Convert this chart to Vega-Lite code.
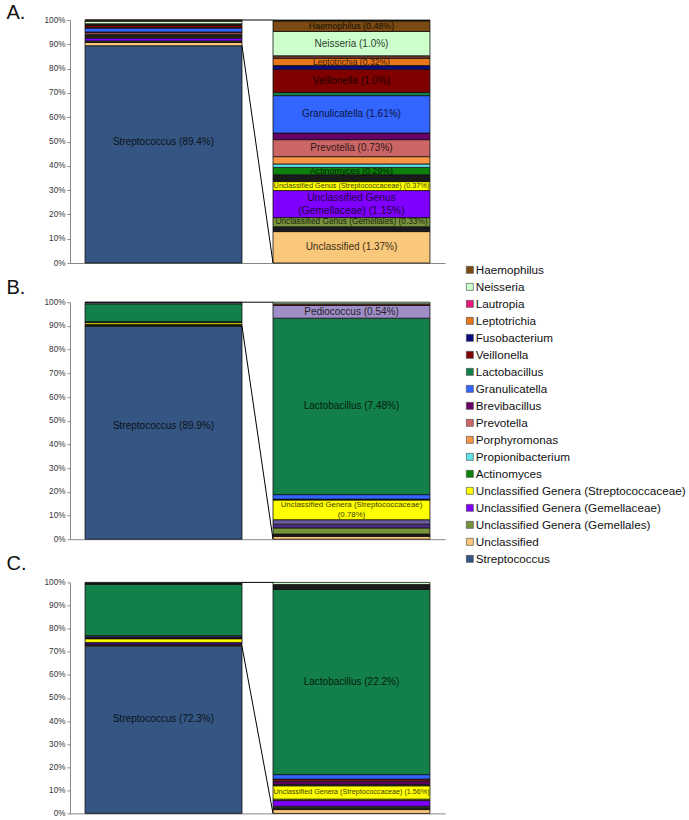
{
  "$schema": "https://vega.github.io/schema/vega-lite/v6.json",
  "autosize": {"type": "pad"},
  "padding": {"left": 6, "top": 2, "right": 2, "bottom": 2},
  "spacing": 10.2,
  "config": {
    "view": {"stroke": null},
    "font": "Liberation Sans",
    "axis": {"labelFont": "Liberation Sans", "titleFont": "Liberation Sans"},
    "axisY": {"labelOverlap": false, "grid": false, "domainColor": "#888", "tickColor": "#888", "tickSize": 3, "labelFontSize": 8.2, "labelColor": "#333", "labelPadding": 2, "titleAngle": 0, "titleX": -64, "titleAlign": "left", "titleBaseline": "alphabetic", "titleFontSize": 20, "titleFontWeight": "normal", "titleColor": "#111"},
    "axisX": {"labels": false, "ticks": false, "domainColor": "#888"},
    "legend": {"labelFontSize": 11.7, "labelFont": "Liberation Sans", "labelColor": "#111", "labelOffset": 0, "rowPadding": 4, "labelLimit": 300, "symbolType": "square", "symbolSize": 49, "symbolStrokeColor": "#444", "symbolStrokeWidth": 0.6}
  },
  "resolve": {"scale": {"color": "shared"}},
  "datasets": {
    "A": [
      {"bar": "All", "taxon": "Streptococcus", "pct": 89.4, "rank": 10, "label": "Streptococcus (89.4%)"},
      {"bar": "All", "taxon": "Unclassified", "pct": 1.37, "rank": 20, "label": ""},
      {"bar": "All", "taxon": "Other", "pct": 0.21, "rank": 30, "label": ""},
      {"bar": "All", "taxon": "Unclassified Genera (Gemellales)", "pct": 0.40, "rank": 40, "label": ""},
      {"bar": "All", "taxon": "Unclassified Genera (Gemellaceae)", "pct": 1.18, "rank": 50, "label": ""},
      {"bar": "All", "taxon": "Unclassified Genera (Streptococcaceae)", "pct": 0.39, "rank": 60, "label": ""},
      {"bar": "All", "taxon": "Other", "pct": 0.30, "rank": 70, "label": ""},
      {"bar": "All", "taxon": "Actinomyces", "pct": 0.32, "rank": 80, "label": ""},
      {"bar": "All", "taxon": "Propionibacterium", "pct": 0.15, "rank": 90, "label": ""},
      {"bar": "All", "taxon": "Porphyromonas", "pct": 0.32, "rank": 100, "label": ""},
      {"bar": "All", "taxon": "Prevotella", "pct": 0.74, "rank": 110, "label": ""},
      {"bar": "All", "taxon": "Brevibacillus", "pct": 0.29, "rank": 120, "label": ""},
      {"bar": "All", "taxon": "Granulicatella", "pct": 1.63, "rank": 130, "label": ""},
      {"bar": "All", "taxon": "Lactobacillus", "pct": 0.14, "rank": 140, "label": ""},
      {"bar": "All", "taxon": "Veillonella", "pct": 1.00, "rank": 150, "label": ""},
      {"bar": "All", "taxon": "Fusobacterium", "pct": 0.17, "rank": 160, "label": ""},
      {"bar": "All", "taxon": "Leptotrichia", "pct": 0.32, "rank": 170, "label": ""},
      {"bar": "All", "taxon": "Other 2", "pct": 0.11, "rank": 190, "label": ""},
      {"bar": "All", "taxon": "Neisseria", "pct": 1.06, "rank": 200, "label": ""},
      {"bar": "All", "taxon": "Haemophilus", "pct": 0.46, "rank": 210, "label": ""},
      {"bar": "All", "taxon": "Other", "pct": 0.04, "rank": 220, "label": ""},
      {"bar": "Minor", "taxon": "Unclassified", "pct": 1.37, "rank": 20, "label": "Unclassified (1.37%)"},
      {"bar": "Minor", "taxon": "Other", "pct": 0.21, "rank": 30, "label": ""},
      {"bar": "Minor", "taxon": "Unclassified Genera (Gemellales)", "pct": 0.40, "rank": 40, "label": "Unclassified Genus (Gemellales) (0.33%)"},
      {"bar": "Minor", "taxon": "Unclassified Genera (Gemellaceae)", "pct": 1.18, "rank": 50, "label": ["Unclassified Genus", "(Gemellaceae) (1.15%)"]},
      {"bar": "Minor", "taxon": "Unclassified Genera (Streptococcaceae)", "pct": 0.39, "rank": 60, "label": "Unclassified Genus (Streptococcaceae) (0.37%)"},
      {"bar": "Minor", "taxon": "Other", "pct": 0.30, "rank": 70, "label": ""},
      {"bar": "Minor", "taxon": "Actinomyces", "pct": 0.32, "rank": 80, "label": "Actinomyces (0.29%)"},
      {"bar": "Minor", "taxon": "Propionibacterium", "pct": 0.15, "rank": 90, "label": ""},
      {"bar": "Minor", "taxon": "Porphyromonas", "pct": 0.32, "rank": 100, "label": ""},
      {"bar": "Minor", "taxon": "Prevotella", "pct": 0.74, "rank": 110, "label": "Prevotella (0.73%)"},
      {"bar": "Minor", "taxon": "Brevibacillus", "pct": 0.29, "rank": 120, "label": ""},
      {"bar": "Minor", "taxon": "Granulicatella", "pct": 1.63, "rank": 130, "label": "Granulicatella (1.61%)"},
      {"bar": "Minor", "taxon": "Lactobacillus", "pct": 0.14, "rank": 140, "label": ""},
      {"bar": "Minor", "taxon": "Veillonella", "pct": 1.00, "rank": 150, "label": "Veillonella (1.0%)"},
      {"bar": "Minor", "taxon": "Fusobacterium", "pct": 0.17, "rank": 160, "label": ""},
      {"bar": "Minor", "taxon": "Leptotrichia", "pct": 0.32, "rank": 170, "label": "Leptotrichia (0.32%)"},
      {"bar": "Minor", "taxon": "Other 2", "pct": 0.11, "rank": 190, "label": ""},
      {"bar": "Minor", "taxon": "Neisseria", "pct": 1.06, "rank": 200, "label": "Neisseria (1.0%)"},
      {"bar": "Minor", "taxon": "Haemophilus", "pct": 0.46, "rank": 210, "label": "Haemophilus (0.48%)"},
      {"bar": "Minor", "taxon": "Other", "pct": 0.04, "rank": 220, "label": ""}
    ],
    "B": [
      {"bar": "All", "taxon": "Streptococcus", "pct": 89.9, "rank": 10, "label": "Streptococcus (89.9%)"},
      {"bar": "All", "taxon": "Unclassified", "pct": 0.12, "rank": 20, "label": ""},
      {"bar": "All", "taxon": "Other", "pct": 0.10, "rank": 30, "label": ""},
      {"bar": "All", "taxon": "Unclassified Genera (Gemellales)", "pct": 0.26, "rank": 40, "label": ""},
      {"bar": "All", "taxon": "Other 4", "pct": 0.16, "rank": 50, "label": ""},
      {"bar": "All", "taxon": "Other 3", "pct": 0.19, "rank": 55, "label": ""},
      {"bar": "All", "taxon": "Unclassified Genera (Streptococcaceae)", "pct": 0.84, "rank": 60, "label": ""},
      {"bar": "All", "taxon": "Other", "pct": 0.04, "rank": 70, "label": ""},
      {"bar": "All", "taxon": "Granulicatella", "pct": 0.19, "rank": 130, "label": ""},
      {"bar": "All", "taxon": "Lactobacillus", "pct": 7.52, "rank": 140, "label": ""},
      {"bar": "All", "taxon": "Pediococcus", "pct": 0.54, "rank": 145, "label": ""},
      {"bar": "All", "taxon": "Other 2", "pct": 0.07, "rank": 190, "label": ""},
      {"bar": "All", "taxon": "Neisseria", "pct": 0.07, "rank": 200, "label": ""},
      {"bar": "Minor", "taxon": "Unclassified", "pct": 0.12, "rank": 20, "label": ""},
      {"bar": "Minor", "taxon": "Other", "pct": 0.10, "rank": 30, "label": ""},
      {"bar": "Minor", "taxon": "Unclassified Genera (Gemellales)", "pct": 0.26, "rank": 40, "label": ""},
      {"bar": "Minor", "taxon": "Other 4", "pct": 0.16, "rank": 50, "label": ""},
      {"bar": "Minor", "taxon": "Other 3", "pct": 0.19, "rank": 55, "label": ""},
      {"bar": "Minor", "taxon": "Unclassified Genera (Streptococcaceae)", "pct": 0.84, "rank": 60, "label": ["Unclassified Genera (Streptococcaceae)", "(0.78%)"]},
      {"bar": "Minor", "taxon": "Other", "pct": 0.04, "rank": 70, "label": ""},
      {"bar": "Minor", "taxon": "Granulicatella", "pct": 0.19, "rank": 130, "label": ""},
      {"bar": "Minor", "taxon": "Lactobacillus", "pct": 7.52, "rank": 140, "label": "Lactobacillus (7.48%)"},
      {"bar": "Minor", "taxon": "Pediococcus", "pct": 0.54, "rank": 145, "label": "Pediococcus (0.54%)"},
      {"bar": "Minor", "taxon": "Other 2", "pct": 0.07, "rank": 190, "label": ""},
      {"bar": "Minor", "taxon": "Neisseria", "pct": 0.07, "rank": 200, "label": ""}
    ],
    "C": [
      {"bar": "All", "taxon": "Streptococcus", "pct": 72.3, "rank": 10, "label": "Streptococcus (72.3%)"},
      {"bar": "All", "taxon": "Unclassified", "pct": 0.46, "rank": 20, "label": ""},
      {"bar": "All", "taxon": "Other", "pct": 0.29, "rank": 30, "label": ""},
      {"bar": "All", "taxon": "Unclassified Genera (Gemellales)", "pct": 0.11, "rank": 40, "label": ""},
      {"bar": "All", "taxon": "Unclassified Genera (Gemellaceae)", "pct": 0.68, "rank": 50, "label": ""},
      {"bar": "All", "taxon": "Other 5", "pct": 0.17, "rank": 55, "label": ""},
      {"bar": "All", "taxon": "Unclassified Genera (Streptococcaceae)", "pct": 1.60, "rank": 60, "label": ""},
      {"bar": "All", "taxon": "Other", "pct": 0.17, "rank": 70, "label": ""},
      {"bar": "All", "taxon": "Brevibacillus", "pct": 0.36, "rank": 120, "label": ""},
      {"bar": "All", "taxon": "Other 6", "pct": 0.28, "rank": 125, "label": ""},
      {"bar": "All", "taxon": "Granulicatella", "pct": 0.53, "rank": 130, "label": ""},
      {"bar": "All", "taxon": "Lactobacillus", "pct": 22.2, "rank": 140, "label": ""},
      {"bar": "All", "taxon": "Other", "pct": 0.60, "rank": 190, "label": ""},
      {"bar": "All", "taxon": "Neisseria", "pct": 0.25, "rank": 200, "label": ""},
      {"bar": "Minor", "taxon": "Unclassified", "pct": 0.46, "rank": 20, "label": ""},
      {"bar": "Minor", "taxon": "Other", "pct": 0.29, "rank": 30, "label": ""},
      {"bar": "Minor", "taxon": "Unclassified Genera (Gemellales)", "pct": 0.11, "rank": 40, "label": ""},
      {"bar": "Minor", "taxon": "Unclassified Genera (Gemellaceae)", "pct": 0.68, "rank": 50, "label": ""},
      {"bar": "Minor", "taxon": "Other 5", "pct": 0.17, "rank": 55, "label": ""},
      {"bar": "Minor", "taxon": "Unclassified Genera (Streptococcaceae)", "pct": 1.60, "rank": 60, "label": "Unclassified Genera (Streptococcaceae) (1.56%)"},
      {"bar": "Minor", "taxon": "Other", "pct": 0.17, "rank": 70, "label": ""},
      {"bar": "Minor", "taxon": "Brevibacillus", "pct": 0.36, "rank": 120, "label": ""},
      {"bar": "Minor", "taxon": "Other 6", "pct": 0.28, "rank": 125, "label": ""},
      {"bar": "Minor", "taxon": "Granulicatella", "pct": 0.53, "rank": 130, "label": ""},
      {"bar": "Minor", "taxon": "Lactobacillus", "pct": 22.2, "rank": 140, "label": "Lactobacillus (22.2%)"},
      {"bar": "Minor", "taxon": "Other", "pct": 0.60, "rank": 190, "label": ""},
      {"bar": "Minor", "taxon": "Neisseria", "pct": 0.25, "rank": 200, "label": ""}
    ],
    "connA": [
      {"from": "All", "to": "Minor", "y": 1, "y2": 1},
      {"from": "All", "to": "Minor", "y": 0.894, "y2": 0}
    ],
    "connB": [
      {"from": "All", "to": "Minor", "y": 1, "y2": 1},
      {"from": "All", "to": "Minor", "y": 0.899, "y2": 0}
    ],
    "connC": [
      {"from": "All", "to": "Minor", "y": 1, "y2": 1},
      {"from": "All", "to": "Minor", "y": 0.723, "y2": 0}
    ]
  },
  "vconcat": [
    {
      "width": 375,
      "height": 243,
      "layer": [
        {
          "data": {"name": "A"},
          "mark": {"type": "bar", "stroke": "#111", "strokeWidth": 0.8},
          "encoding": {
            "x": {"field": "bar", "type": "nominal", "sort": ["All", "Minor"], "scale": {"type": "band", "paddingInner": 0.165, "paddingOuter": 0.08}, "axis": {"title": null}},
            "y": {"field": "pct", "type": "quantitative", "stack": "normalize", "scale": {"domain": [0, 1], "nice": false}, "axis": {"title": "A.", "titleY": -2, "values": [0, 0.1, 0.2, 0.3, 0.4, 0.5, 0.6, 0.7, 0.8, 0.9, 1], "format": ".0%", "labelOverlap": false}},
            "color": {"field": "taxon", "type": "nominal", "scale": {"domain": ["Haemophilus", "Neisseria", "Lautropia", "Leptotrichia", "Fusobacterium", "Veillonella", "Lactobacillus", "Granulicatella", "Brevibacillus", "Prevotella", "Porphyromonas", "Propionibacterium", "Actinomyces", "Unclassified Genera (Streptococcaceae)", "Unclassified Genera (Gemellaceae)", "Unclassified Genera (Gemellales)", "Unclassified", "Streptococcus", "Pediococcus", "Other", "Other 2", "Other 3", "Other 4", "Other 5", "Other 6"], "range": ["#7a4a12", "#ccffcc", "#e8177f", "#e8761b", "#0a0a80", "#800000", "#13804a", "#3366ff", "#660066", "#cc6666", "#f79646", "#5fe3ea", "#0b800b", "#ffff00", "#8000ff", "#77933c", "#fac87a", "#355682", "#9f8fc6", "#1a1a1a", "#7b3b2b", "#6b5c9e", "#4a2e85", "#6e7e3c", "#701520"]}, "legend": {"orient": "none", "legendX": 394, "legendY": 244, "title": null, "values": ["Haemophilus", "Neisseria", "Lautropia", "Leptotrichia", "Fusobacterium", "Veillonella", "Lactobacillus", "Granulicatella", "Brevibacillus", "Prevotella", "Porphyromonas", "Propionibacterium", "Actinomyces", "Unclassified Genera (Streptococcaceae)", "Unclassified Genera (Gemellaceae)", "Unclassified Genera (Gemellales)", "Unclassified", "Streptococcus"], "labelFontSize": 11.7, "labelOffset": 0}},
            "order": {"field": "rank", "type": "quantitative"}
          }
        },
        {
          "data": {"name": "A"},
          "mark": {"type": "text", "fill": "#000", "opacity": 0.78, "font": "Liberation Sans", "baseline": "middle"},
          "encoding": {
            "x": {"field": "bar", "type": "nominal", "sort": ["All", "Minor"], "axis": {"title": null}},
            "y": {"field": "pct", "type": "quantitative", "stack": "normalize", "bandPosition": 0.5, "axis": {"title": "A.", "titleY": -2, "values": [0, 0.1, 0.2, 0.3, 0.4, 0.5, 0.6, 0.7, 0.8, 0.9, 1], "format": ".0%", "labelOverlap": false}},
            "detail": {"field": "taxon", "type": "nominal"},
            "order": {"field": "rank", "type": "quantitative"},
            "text": {"condition": {"test": "!isArray(datum.label) && datum.taxon !== 'Streptococcus'", "field": "label", "type": "nominal"}, "value": ""},
            "size": {"condition": [
              {"test": "datum.taxon === 'Haemophilus'", "value": 8.9},
              {"test": "datum.taxon === 'Leptotrichia'", "value": 8.6},
              {"test": "datum.taxon === 'Actinomyces'", "value": 8.8},
              {"test": "datum.taxon === 'Unclassified Genera (Streptococcaceae)'", "value": 7.3},
              {"test": "datum.taxon === 'Unclassified Genera (Gemellales)'", "value": 8.3}
            ], "value": 10}
          }
        },
        {
          "data": {"name": "A"},
          "mark": {"type": "text", "fill": "#000", "opacity": 0.78, "font": "Liberation Sans", "baseline": "middle", "dy": -12, "fontSize": 10},
          "encoding": {
            "x": {"field": "bar", "type": "nominal", "sort": ["All", "Minor"], "axis": {"title": null}},
            "y": {"field": "pct", "type": "quantitative", "stack": "normalize", "bandPosition": 0.5, "axis": {"title": "A.", "titleY": -2, "values": [0, 0.1, 0.2, 0.3, 0.4, 0.5, 0.6, 0.7, 0.8, 0.9, 1], "format": ".0%", "labelOverlap": false}},
            "detail": {"field": "taxon", "type": "nominal"},
            "order": {"field": "rank", "type": "quantitative"},
            "text": {"condition": {"test": "datum.taxon === 'Streptococcus'", "field": "label", "type": "nominal"}, "value": ""}
          }
        },
        {
          "data": {"name": "A"},
          "mark": {"type": "text", "fill": "#000", "opacity": 0.78, "font": "Liberation Sans", "baseline": "middle", "lineHeight": 12.5, "dy": -6, "fontSize": 10.3},
          "encoding": {
            "x": {"field": "bar", "type": "nominal", "sort": ["All", "Minor"], "axis": {"title": null}},
            "y": {"field": "pct", "type": "quantitative", "stack": "normalize", "bandPosition": 0.5, "axis": {"title": "A.", "titleY": -2, "values": [0, 0.1, 0.2, 0.3, 0.4, 0.5, 0.6, 0.7, 0.8, 0.9, 1], "format": ".0%", "labelOverlap": false}},
            "detail": {"field": "taxon", "type": "nominal"},
            "order": {"field": "rank", "type": "quantitative"},
            "text": {"condition": {"test": "isArray(datum.label)", "field": "label", "type": "nominal"}, "value": ""}
          }
        },
        {
          "data": {"name": "connA"},
          "mark": {"type": "rule", "color": "#000", "strokeWidth": 1},
          "encoding": {
            "x": {"field": "from", "type": "nominal", "bandPosition": 1, "sort": ["All", "Minor"], "axis": {"title": null}},
            "x2": {"field": "to", "bandPosition": 0},
            "y": {"field": "y", "type": "quantitative", "axis": {"title": "A.", "titleY": -2, "values": [0, 0.1, 0.2, 0.3, 0.4, 0.5, 0.6, 0.7, 0.8, 0.9, 1], "format": ".0%", "labelOverlap": false}},
            "y2": {"field": "y2"}
          }
        }
      ]
    },
    {
      "width": 375,
      "height": 237,
      "layer": [
        {
          "data": {"name": "B"},
          "mark": {"type": "bar", "stroke": "#111", "strokeWidth": 0.8},
          "encoding": {
            "x": {"field": "bar", "type": "nominal", "sort": ["All", "Minor"], "scale": {"type": "band", "paddingInner": 0.165, "paddingOuter": 0.08}, "axis": {"title": null}},
            "y": {"field": "pct", "type": "quantitative", "stack": "normalize", "scale": {"domain": [0, 1], "nice": false}, "axis": {"title": "B.", "titleY": -9, "values": [0, 0.1, 0.2, 0.3, 0.4, 0.5, 0.6, 0.7, 0.8, 0.9, 1], "format": ".0%", "labelOverlap": false}},
            "color": {"field": "taxon", "type": "nominal", "scale": {"domain": ["Haemophilus", "Neisseria", "Lautropia", "Leptotrichia", "Fusobacterium", "Veillonella", "Lactobacillus", "Granulicatella", "Brevibacillus", "Prevotella", "Porphyromonas", "Propionibacterium", "Actinomyces", "Unclassified Genera (Streptococcaceae)", "Unclassified Genera (Gemellaceae)", "Unclassified Genera (Gemellales)", "Unclassified", "Streptococcus", "Pediococcus", "Other", "Other 2", "Other 3", "Other 4", "Other 5", "Other 6"], "range": ["#7a4a12", "#ccffcc", "#e8177f", "#e8761b", "#0a0a80", "#800000", "#13804a", "#3366ff", "#660066", "#cc6666", "#f79646", "#5fe3ea", "#0b800b", "#ffff00", "#8000ff", "#77933c", "#fac87a", "#355682", "#9f8fc6", "#1a1a1a", "#7b3b2b", "#6b5c9e", "#4a2e85", "#6e7e3c", "#701520"]}, "legend": {"orient": "none", "legendX": 394, "legendY": 244, "title": null, "values": ["Haemophilus", "Neisseria", "Lautropia", "Leptotrichia", "Fusobacterium", "Veillonella", "Lactobacillus", "Granulicatella", "Brevibacillus", "Prevotella", "Porphyromonas", "Propionibacterium", "Actinomyces", "Unclassified Genera (Streptococcaceae)", "Unclassified Genera (Gemellaceae)", "Unclassified Genera (Gemellales)", "Unclassified", "Streptococcus"], "labelFontSize": 11.7, "labelOffset": 0}},
            "order": {"field": "rank", "type": "quantitative"}
          }
        },
        {
          "data": {"name": "B"},
          "mark": {"type": "text", "fill": "#000", "opacity": 0.78, "font": "Liberation Sans", "baseline": "middle", "fontSize": 10},
          "encoding": {
            "x": {"field": "bar", "type": "nominal", "sort": ["All", "Minor"], "axis": {"title": null}},
            "y": {"field": "pct", "type": "quantitative", "stack": "normalize", "bandPosition": 0.5, "axis": {"title": "B.", "titleY": -9, "values": [0, 0.1, 0.2, 0.3, 0.4, 0.5, 0.6, 0.7, 0.8, 0.9, 1], "format": ".0%", "labelOverlap": false}},
            "detail": {"field": "taxon", "type": "nominal"},
            "order": {"field": "rank", "type": "quantitative"},
            "text": {"condition": {"test": "!isArray(datum.label) && datum.taxon !== 'Streptococcus'", "field": "label", "type": "nominal"}, "value": ""}
          }
        },
        {
          "data": {"name": "B"},
          "mark": {"type": "text", "fill": "#000", "opacity": 0.78, "font": "Liberation Sans", "baseline": "middle", "dy": -7, "fontSize": 10},
          "encoding": {
            "x": {"field": "bar", "type": "nominal", "sort": ["All", "Minor"], "axis": {"title": null}},
            "y": {"field": "pct", "type": "quantitative", "stack": "normalize", "bandPosition": 0.5, "axis": {"title": "B.", "titleY": -9, "values": [0, 0.1, 0.2, 0.3, 0.4, 0.5, 0.6, 0.7, 0.8, 0.9, 1], "format": ".0%", "labelOverlap": false}},
            "detail": {"field": "taxon", "type": "nominal"},
            "order": {"field": "rank", "type": "quantitative"},
            "text": {"condition": {"test": "datum.taxon === 'Streptococcus'", "field": "label", "type": "nominal"}, "value": ""}
          }
        },
        {
          "data": {"name": "B"},
          "mark": {"type": "text", "fill": "#000", "opacity": 0.78, "font": "Liberation Sans", "baseline": "middle", "lineHeight": 10.5, "dy": -5, "fontSize": 7.9},
          "encoding": {
            "x": {"field": "bar", "type": "nominal", "sort": ["All", "Minor"], "axis": {"title": null}},
            "y": {"field": "pct", "type": "quantitative", "stack": "normalize", "bandPosition": 0.5, "axis": {"title": "B.", "titleY": -9, "values": [0, 0.1, 0.2, 0.3, 0.4, 0.5, 0.6, 0.7, 0.8, 0.9, 1], "format": ".0%", "labelOverlap": false}},
            "detail": {"field": "taxon", "type": "nominal"},
            "order": {"field": "rank", "type": "quantitative"},
            "text": {"condition": {"test": "isArray(datum.label)", "field": "label", "type": "nominal"}, "value": ""}
          }
        },
        {
          "data": {"name": "connB"},
          "mark": {"type": "rule", "color": "#000", "strokeWidth": 1},
          "encoding": {
            "x": {"field": "from", "type": "nominal", "bandPosition": 1, "sort": ["All", "Minor"], "axis": {"title": null}},
            "x2": {"field": "to", "bandPosition": 0},
            "y": {"field": "y", "type": "quantitative", "axis": {"title": "B.", "titleY": -9, "values": [0, 0.1, 0.2, 0.3, 0.4, 0.5, 0.6, 0.7, 0.8, 0.9, 1], "format": ".0%", "labelOverlap": false}},
            "y2": {"field": "y2"}
          }
        }
      ]
    },
    {
      "width": 375,
      "height": 231,
      "layer": [
        {
          "data": {"name": "C"},
          "mark": {"type": "bar", "stroke": "#111", "strokeWidth": 0.8},
          "encoding": {
            "x": {"field": "bar", "type": "nominal", "sort": ["All", "Minor"], "scale": {"type": "band", "paddingInner": 0.165, "paddingOuter": 0.08}, "axis": {"title": null}},
            "y": {"field": "pct", "type": "quantitative", "stack": "normalize", "scale": {"domain": [0, 1], "nice": false}, "axis": {"title": "C.", "titleY": -12.7, "values": [0, 0.1, 0.2, 0.3, 0.4, 0.5, 0.6, 0.7, 0.8, 0.9, 1], "format": ".0%", "labelOverlap": false}},
            "color": {"field": "taxon", "type": "nominal", "scale": {"domain": ["Haemophilus", "Neisseria", "Lautropia", "Leptotrichia", "Fusobacterium", "Veillonella", "Lactobacillus", "Granulicatella", "Brevibacillus", "Prevotella", "Porphyromonas", "Propionibacterium", "Actinomyces", "Unclassified Genera (Streptococcaceae)", "Unclassified Genera (Gemellaceae)", "Unclassified Genera (Gemellales)", "Unclassified", "Streptococcus", "Pediococcus", "Other", "Other 2", "Other 3", "Other 4", "Other 5", "Other 6"], "range": ["#7a4a12", "#ccffcc", "#e8177f", "#e8761b", "#0a0a80", "#800000", "#13804a", "#3366ff", "#660066", "#cc6666", "#f79646", "#5fe3ea", "#0b800b", "#ffff00", "#8000ff", "#77933c", "#fac87a", "#355682", "#9f8fc6", "#1a1a1a", "#7b3b2b", "#6b5c9e", "#4a2e85", "#6e7e3c", "#701520"]}, "legend": {"orient": "none", "legendX": 394, "legendY": 244, "title": null, "values": ["Haemophilus", "Neisseria", "Lautropia", "Leptotrichia", "Fusobacterium", "Veillonella", "Lactobacillus", "Granulicatella", "Brevibacillus", "Prevotella", "Porphyromonas", "Propionibacterium", "Actinomyces", "Unclassified Genera (Streptococcaceae)", "Unclassified Genera (Gemellaceae)", "Unclassified Genera (Gemellales)", "Unclassified", "Streptococcus"], "labelFontSize": 11.7, "labelOffset": 0}},
            "order": {"field": "rank", "type": "quantitative"}
          }
        },
        {
          "data": {"name": "C"},
          "mark": {"type": "text", "fill": "#000", "opacity": 0.78, "font": "Liberation Sans", "baseline": "middle"},
          "encoding": {
            "x": {"field": "bar", "type": "nominal", "sort": ["All", "Minor"], "axis": {"title": null}},
            "y": {"field": "pct", "type": "quantitative", "stack": "normalize", "bandPosition": 0.5, "axis": {"title": "C.", "titleY": -12.7, "values": [0, 0.1, 0.2, 0.3, 0.4, 0.5, 0.6, 0.7, 0.8, 0.9, 1], "format": ".0%", "labelOverlap": false}},
            "detail": {"field": "taxon", "type": "nominal"},
            "order": {"field": "rank", "type": "quantitative"},
            "text": {"condition": {"test": "datum.taxon !== 'Streptococcus'", "field": "label", "type": "nominal"}, "value": ""},
            "size": {"condition": [
              {"test": "datum.taxon === 'Unclassified Genera (Streptococcaceae)'", "value": 7.2}
            ], "value": 10}
          }
        },
        {
          "data": {"name": "C"},
          "mark": {"type": "text", "fill": "#000", "opacity": 0.78, "font": "Liberation Sans", "baseline": "middle", "dy": -11, "fontSize": 10},
          "encoding": {
            "x": {"field": "bar", "type": "nominal", "sort": ["All", "Minor"], "axis": {"title": null}},
            "y": {"field": "pct", "type": "quantitative", "stack": "normalize", "bandPosition": 0.5, "axis": {"title": "C.", "titleY": -12.7, "values": [0, 0.1, 0.2, 0.3, 0.4, 0.5, 0.6, 0.7, 0.8, 0.9, 1], "format": ".0%", "labelOverlap": false}},
            "detail": {"field": "taxon", "type": "nominal"},
            "order": {"field": "rank", "type": "quantitative"},
            "text": {"condition": {"test": "datum.taxon === 'Streptococcus'", "field": "label", "type": "nominal"}, "value": ""}
          }
        },
        {
          "data": {"name": "connC"},
          "mark": {"type": "rule", "color": "#000", "strokeWidth": 1},
          "encoding": {
            "x": {"field": "from", "type": "nominal", "bandPosition": 1, "sort": ["All", "Minor"], "axis": {"title": null}},
            "x2": {"field": "to", "bandPosition": 0},
            "y": {"field": "y", "type": "quantitative", "axis": {"title": "C.", "titleY": -12.7, "values": [0, 0.1, 0.2, 0.3, 0.4, 0.5, 0.6, 0.7, 0.8, 0.9, 1], "format": ".0%", "labelOverlap": false}},
            "y2": {"field": "y2"}
          }
        }
      ]
    }
  ]
}
